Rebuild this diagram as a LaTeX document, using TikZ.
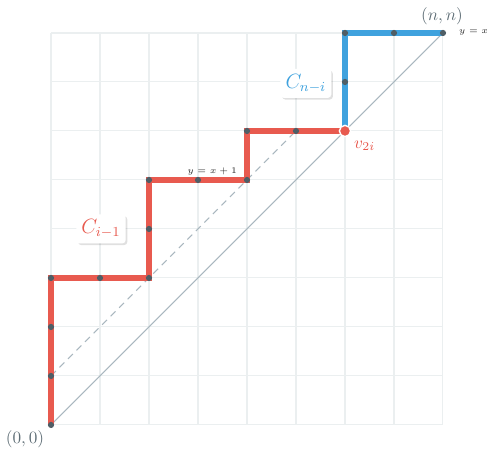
\documentclass[tikz,border=0pt]{standalone}
\usepackage{amsmath}
\usetikzlibrary{shadows}
\definecolor{pathRed}{HTML}{E85A4F}
\definecolor{pathBlue}{HTML}{3FA2DE}
\definecolor{dotGray}{HTML}{4F5E66}
\definecolor{gridGray}{HTML}{EBEFF0}
\definecolor{diagGray}{HTML}{A9B7BF}
\definecolor{textGray}{HTML}{5F6E76}
\newcommand\gridN{8}
\newcommand\pathW{3.8pt}
\newcommand\dotR{1.8pt}
\tikzset{
    lattice dot/.style={circle, fill=dotGray, inner sep=0pt, minimum size=2*\dotR},
    path label/.style={fill=white, rounded corners=2pt, inner sep=3pt, font=\large,
        drop shadow={shadow xshift=1pt, shadow yshift=-1pt, opacity=0.12, fill=black}},
    tiny label/.style={font=\fontsize{5.5}{6}\selectfont, text=black!85}
}

\begin{document}
\begin{tikzpicture}
        \useasboundingbox (-1.041,-0.49) rectangle (8.898,8.673);

        % grid
        \draw[gridGray, line width=0.6pt] (0,0) grid (\gridN,\gridN);

        % diagonals
        \draw[diagGray, line width=0.6pt] (0,0) -- (\gridN,\gridN);
        \draw[diagGray, line width=0.6pt, dash pattern=on 4pt off 3pt] (0,1) -- (5,6);

        % the two lattice paths
        \coordinate (origin) at (0,0);
        \coordinate (split) at (6,6);
        \coordinate (top) at (\gridN,\gridN);
        \draw[pathRed, line width=\pathW] (origin) -- (0,3) -- (2,3) -- (2,5) -- (4,5) -- (4,6) -- (split);
        \draw[pathBlue, line width=\pathW] (split) -- (6,8) -- (top);

        % lattice points on the paths
        \foreach \x/\y in {0/0, 0/1, 0/2, 0/3, 1/3, 2/3, 2/4, 2/5, 3/5, 4/5, 4/6, 5/6, 6/7, 6/8, 7/8, 8/8}
            \node[lattice dot] (p\x\y) at (\x,\y) {};
        \node[circle, fill=pathRed, draw=white, line width=0.8pt, inner sep=0pt, minimum size=6.5pt] (v) at (split) {};

        % labels
        \node[text=textGray] (originLabel) at (-0.53,-0.3) {$(0,0)$};
        \node[text=textGray] (topLabel) at (7.98,8.35) {$(n,n)$};
        \node[tiny label, anchor=west] (diagLabel) at (8.2,8) {$y=x$};
        \node[tiny label, anchor=south east] (shiftLabel) at (3.92,4.98) {$y=x+1$};
        \node[text=pathRed] (vLabel) at (6.4,5.7) {$v_{2i}$};
        \node[path label, text=pathRed] (lowerLabel) at (1.02,4.0) {$C_{i-1}$};
        \node[path label, text=pathBlue] (upperLabel) at (5.2,6.97) {$C_{n-i}$};

    \end{tikzpicture}
\end{document}
